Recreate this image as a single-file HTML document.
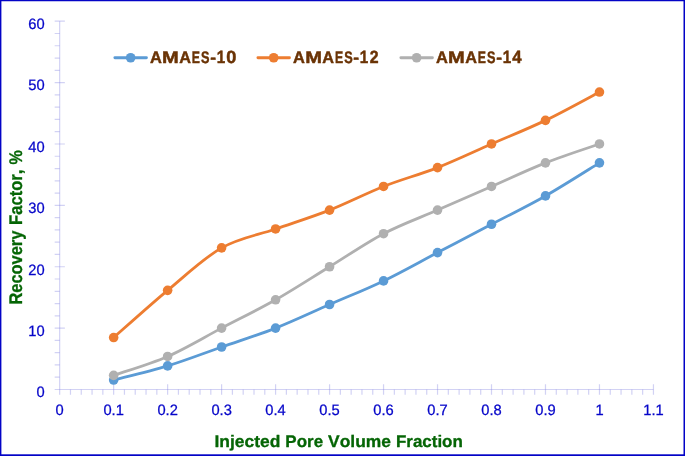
<!DOCTYPE html>
<html><head><meta charset="utf-8"><title>Recovery Factor Chart</title>
<style>
html,body{margin:0;padding:0;background:#fff;}
body{width:685px;height:456px;overflow:hidden;font-family:"Liberation Sans",sans-serif;}
svg{display:block;will-change:transform;}
text{text-rendering:geometricPrecision;font-kerning:none;}
</style></head><body>
<svg width="685" height="456" viewBox="0 0 685 456">
<rect x="0" y="0" width="685" height="456" fill="#fff"/>
<g stroke="#8686e2" stroke-width="1.2" stroke-opacity="0.37" fill="none" stroke-linecap="butt">
<path d="M59.67 21.22 V394.80"/>
<path d="M54.67 389.50 H653.45"/>
<path d="M54.67 377.22 H59.67M54.67 364.95 H59.67M54.67 352.67 H59.67M54.67 340.40 H59.67M54.67 328.12 H64.87M54.67 315.84 H59.67M54.67 303.57 H59.67M54.67 291.29 H59.67M54.67 279.02 H59.67M54.67 266.74 H64.87M54.67 254.46 H59.67M54.67 242.19 H59.67M54.67 229.91 H59.67M54.67 217.64 H59.67M54.67 205.36 H64.87M54.67 193.08 H59.67M54.67 180.81 H59.67M54.67 168.53 H59.67M54.67 156.26 H59.67M54.67 143.98 H64.87M54.67 131.70 H59.67M54.67 119.43 H59.67M54.67 107.15 H59.67M54.67 94.88 H59.67M54.67 82.60 H64.87M54.67 70.32 H59.67M54.67 58.05 H59.67M54.67 45.77 H59.67M54.67 33.50 H59.67M54.67 21.22 H64.87"/>
<path d="M70.47 389.50 V394.80M81.26 389.50 V394.80M92.06 389.50 V394.80M102.85 389.50 V394.80M113.65 384.20 V394.80M124.45 389.50 V394.80M135.24 389.50 V394.80M146.04 389.50 V394.80M156.83 389.50 V394.80M167.63 384.20 V394.80M178.43 389.50 V394.80M189.22 389.50 V394.80M200.02 389.50 V394.80M210.81 389.50 V394.80M221.61 384.20 V394.80M232.41 389.50 V394.80M243.20 389.50 V394.80M254.00 389.50 V394.80M264.79 389.50 V394.80M275.59 384.20 V394.80M286.39 389.50 V394.80M297.18 389.50 V394.80M307.98 389.50 V394.80M318.77 389.50 V394.80M329.57 384.20 V394.80M340.37 389.50 V394.80M351.16 389.50 V394.80M361.96 389.50 V394.80M372.75 389.50 V394.80M383.55 384.20 V394.80M394.35 389.50 V394.80M405.14 389.50 V394.80M415.94 389.50 V394.80M426.73 389.50 V394.80M437.53 384.20 V394.80M448.33 389.50 V394.80M459.12 389.50 V394.80M469.92 389.50 V394.80M480.71 389.50 V394.80M491.51 384.20 V394.80M502.31 389.50 V394.80M513.10 389.50 V394.80M523.90 389.50 V394.80M534.69 389.50 V394.80M545.49 384.20 V394.80M556.29 389.50 V394.80M567.08 389.50 V394.80M577.88 389.50 V394.80M588.67 389.50 V394.80M599.47 384.20 V394.80M610.27 389.50 V394.80M621.06 389.50 V394.80M631.86 389.50 V394.80M642.65 389.50 V394.80M653.45 384.20 V394.80"/>
</g>
<g font-family="Liberation Sans, sans-serif" font-size="15.0" fill="#0606c9" stroke="#0606c9" stroke-width="0.28">
<text x="36.53" y="397.30" textLength="8.17" lengthAdjust="spacingAndGlyphs">0</text>
<text x="28.35" y="335.92" textLength="16.35" lengthAdjust="spacingAndGlyphs">10</text>
<text x="28.35" y="274.54" textLength="16.35" lengthAdjust="spacingAndGlyphs">20</text>
<text x="28.35" y="213.16" textLength="16.35" lengthAdjust="spacingAndGlyphs">30</text>
<text x="28.35" y="151.78" textLength="16.35" lengthAdjust="spacingAndGlyphs">40</text>
<text x="28.35" y="90.40" textLength="16.35" lengthAdjust="spacingAndGlyphs">50</text>
<text x="28.35" y="29.02" textLength="16.35" lengthAdjust="spacingAndGlyphs">60</text>
<text x="55.58" y="414.85" textLength="8.17" lengthAdjust="spacingAndGlyphs">0</text>
<text x="103.43" y="414.85" textLength="20.43" lengthAdjust="spacingAndGlyphs">0.1</text>
<text x="157.41" y="414.85" textLength="20.43" lengthAdjust="spacingAndGlyphs">0.2</text>
<text x="211.39" y="414.85" textLength="20.43" lengthAdjust="spacingAndGlyphs">0.3</text>
<text x="265.37" y="414.85" textLength="20.43" lengthAdjust="spacingAndGlyphs">0.4</text>
<text x="319.35" y="414.85" textLength="20.43" lengthAdjust="spacingAndGlyphs">0.5</text>
<text x="373.33" y="414.85" textLength="20.43" lengthAdjust="spacingAndGlyphs">0.6</text>
<text x="427.31" y="414.85" textLength="20.43" lengthAdjust="spacingAndGlyphs">0.7</text>
<text x="481.29" y="414.85" textLength="20.43" lengthAdjust="spacingAndGlyphs">0.8</text>
<text x="535.27" y="414.85" textLength="20.43" lengthAdjust="spacingAndGlyphs">0.9</text>
<text x="595.38" y="414.85" textLength="8.17" lengthAdjust="spacingAndGlyphs">1</text>
<text x="643.23" y="414.85" textLength="20.43" lengthAdjust="spacingAndGlyphs">1.1</text>
</g>
<path d="M113.65 380.06 C122.65 377.70 149.64 371.40 167.63 365.89 C185.62 360.38 203.62 353.30 221.61 347.01 C239.60 340.71 257.60 335.20 275.59 328.12 C293.58 321.04 311.58 312.38 329.57 304.51 C347.56 296.64 365.56 289.56 383.55 280.90 C401.54 272.25 419.54 262.02 437.53 252.58 C455.52 243.13 473.52 233.69 491.51 224.25 C509.50 214.80 527.50 206.15 545.49 195.92 C563.48 185.69 590.47 168.37 599.47 162.87" fill="none" stroke="#5B9BD5" stroke-width="2.8" stroke-linecap="round" stroke-linejoin="round"/>
<g fill="#5B9BD5"><circle cx="113.65" cy="380.06" r="4.8"/><circle cx="167.63" cy="365.89" r="4.8"/><circle cx="221.61" cy="347.01" r="4.8"/><circle cx="275.59" cy="328.12" r="4.8"/><circle cx="329.57" cy="304.51" r="4.8"/><circle cx="383.55" cy="280.90" r="4.8"/><circle cx="437.53" cy="252.58" r="4.8"/><circle cx="491.51" cy="224.25" r="4.8"/><circle cx="545.49" cy="195.92" r="4.8"/><circle cx="599.47" cy="162.87" r="4.8"/></g>
<path d="M113.65 337.56 C122.65 329.69 149.64 305.30 167.63 290.35 C185.62 275.40 203.62 258.08 221.61 247.85 C239.60 237.62 257.60 235.26 275.59 228.97 C293.58 222.67 311.58 217.16 329.57 210.08 C347.56 203.00 365.56 193.56 383.55 186.47 C401.54 179.39 419.54 174.67 437.53 167.59 C455.52 160.51 473.52 151.85 491.51 143.98 C509.50 136.11 527.50 129.03 545.49 120.37 C563.48 111.72 590.47 96.76 599.47 92.04" fill="none" stroke="#ED7D31" stroke-width="2.8" stroke-linecap="round" stroke-linejoin="round"/>
<g fill="#ED7D31"><circle cx="113.65" cy="337.56" r="4.8"/><circle cx="167.63" cy="290.35" r="4.8"/><circle cx="221.61" cy="247.85" r="4.8"/><circle cx="275.59" cy="228.97" r="4.8"/><circle cx="329.57" cy="210.08" r="4.8"/><circle cx="383.55" cy="186.47" r="4.8"/><circle cx="437.53" cy="167.59" r="4.8"/><circle cx="491.51" cy="143.98" r="4.8"/><circle cx="545.49" cy="120.37" r="4.8"/><circle cx="599.47" cy="92.04" r="4.8"/></g>
<path d="M113.65 375.34 C122.65 372.19 149.64 364.32 167.63 356.45 C185.62 348.58 203.62 337.56 221.61 328.12 C239.60 318.68 257.60 310.02 275.59 299.79 C293.58 289.56 311.58 277.76 329.57 266.74 C347.56 255.72 365.56 243.13 383.55 233.69 C401.54 224.25 419.54 217.95 437.53 210.08 C455.52 202.21 473.52 194.34 491.51 186.47 C509.50 178.60 527.50 169.95 545.49 162.87 C563.48 155.78 590.47 147.13 599.47 143.98" fill="none" stroke="#B0B0B0" stroke-width="2.8" stroke-linecap="round" stroke-linejoin="round"/>
<g fill="#B0B0B0"><circle cx="113.65" cy="375.34" r="4.8"/><circle cx="167.63" cy="356.45" r="4.8"/><circle cx="221.61" cy="328.12" r="4.8"/><circle cx="275.59" cy="299.79" r="4.8"/><circle cx="329.57" cy="266.74" r="4.8"/><circle cx="383.55" cy="233.69" r="4.8"/><circle cx="437.53" cy="210.08" r="4.8"/><circle cx="491.51" cy="186.47" r="4.8"/><circle cx="545.49" cy="162.87" r="4.8"/><circle cx="599.47" cy="143.98" r="4.8"/></g>
<path d="M114.85 57.75 H146.45" stroke="#5B9BD5" stroke-width="2.8" stroke-linecap="round"/>
<circle cx="130.65" cy="57.75" r="4.8" fill="#5B9BD5"/>
<text transform="translate(149.97 62.60) scale(0.9904 1.000)" font-family="Liberation Sans, sans-serif" font-weight="bold" font-size="16.6" fill="#6a3305" stroke="#6a3305" stroke-width="0.45" stroke-linejoin="round">A</text>
<text transform="translate(162.09 62.60) scale(1.2105 1.000)" font-family="Liberation Sans, sans-serif" font-weight="bold" font-size="16.6" fill="#6a3305" stroke="#6a3305" stroke-width="0.45" stroke-linejoin="round">M</text>
<text transform="translate(179.32 62.60) scale(0.9796 1.000)" font-family="Liberation Sans, sans-serif" font-weight="bold" font-size="16.6" fill="#6a3305" stroke="#6a3305" stroke-width="0.45" stroke-linejoin="round">A</text>
<text transform="translate(191.84 62.60) scale(0.7387 1.000)" font-family="Liberation Sans, sans-serif" font-weight="bold" font-size="16.6" fill="#6a3305" stroke="#6a3305" stroke-width="0.45" stroke-linejoin="round">E</text>
<text transform="translate(201.11 62.60) scale(0.7652 1.000)" font-family="Liberation Sans, sans-serif" font-weight="bold" font-size="16.6" fill="#6a3305" stroke="#6a3305" stroke-width="0.45" stroke-linejoin="round">S</text>
<text transform="translate(210.23 62.60) scale(1.0510 1.000)" font-family="Liberation Sans, sans-serif" font-weight="bold" font-size="16.6" fill="#6a3305" stroke="#6a3305" stroke-width="0.45" stroke-linejoin="round">-</text>
<text transform="translate(216.65 62.60) scale(0.9166 1.065)" font-family="Liberation Sans, sans-serif" font-weight="bold" font-size="16.6" fill="#6a3305" stroke="#6a3305" stroke-width="0.45" stroke-linejoin="round">1</text>
<text transform="translate(226.28 62.60) scale(1.0944 1.065)" font-family="Liberation Sans, sans-serif" font-weight="bold" font-size="16.6" fill="#6a3305" stroke="#6a3305" stroke-width="0.45" stroke-linejoin="round">0</text>
<path d="M257.90 57.75 H289.50" stroke="#ED7D31" stroke-width="2.8" stroke-linecap="round"/>
<circle cx="273.70" cy="57.75" r="4.8" fill="#ED7D31"/>
<text transform="translate(293.02 62.60) scale(0.9904 1.000)" font-family="Liberation Sans, sans-serif" font-weight="bold" font-size="16.6" fill="#6a3305" stroke="#6a3305" stroke-width="0.45" stroke-linejoin="round">A</text>
<text transform="translate(305.14 62.60) scale(1.2105 1.000)" font-family="Liberation Sans, sans-serif" font-weight="bold" font-size="16.6" fill="#6a3305" stroke="#6a3305" stroke-width="0.45" stroke-linejoin="round">M</text>
<text transform="translate(322.37 62.60) scale(0.9796 1.000)" font-family="Liberation Sans, sans-serif" font-weight="bold" font-size="16.6" fill="#6a3305" stroke="#6a3305" stroke-width="0.45" stroke-linejoin="round">A</text>
<text transform="translate(334.89 62.60) scale(0.7387 1.000)" font-family="Liberation Sans, sans-serif" font-weight="bold" font-size="16.6" fill="#6a3305" stroke="#6a3305" stroke-width="0.45" stroke-linejoin="round">E</text>
<text transform="translate(344.16 62.60) scale(0.7652 1.000)" font-family="Liberation Sans, sans-serif" font-weight="bold" font-size="16.6" fill="#6a3305" stroke="#6a3305" stroke-width="0.45" stroke-linejoin="round">S</text>
<text transform="translate(353.28 62.60) scale(1.0510 1.000)" font-family="Liberation Sans, sans-serif" font-weight="bold" font-size="16.6" fill="#6a3305" stroke="#6a3305" stroke-width="0.45" stroke-linejoin="round">-</text>
<text transform="translate(359.70 62.60) scale(0.9166 1.065)" font-family="Liberation Sans, sans-serif" font-weight="bold" font-size="16.6" fill="#6a3305" stroke="#6a3305" stroke-width="0.45" stroke-linejoin="round">1</text>
<text transform="translate(369.71 62.60) scale(0.9547 1.065)" font-family="Liberation Sans, sans-serif" font-weight="bold" font-size="16.6" fill="#6a3305" stroke="#6a3305" stroke-width="0.45" stroke-linejoin="round">2</text>
<path d="M400.85 57.75 H432.45" stroke="#B0B0B0" stroke-width="2.8" stroke-linecap="round"/>
<circle cx="416.65" cy="57.75" r="4.8" fill="#B0B0B0"/>
<text transform="translate(435.97 62.60) scale(0.9904 1.000)" font-family="Liberation Sans, sans-serif" font-weight="bold" font-size="16.6" fill="#6a3305" stroke="#6a3305" stroke-width="0.45" stroke-linejoin="round">A</text>
<text transform="translate(448.09 62.60) scale(1.2105 1.000)" font-family="Liberation Sans, sans-serif" font-weight="bold" font-size="16.6" fill="#6a3305" stroke="#6a3305" stroke-width="0.45" stroke-linejoin="round">M</text>
<text transform="translate(465.32 62.60) scale(0.9796 1.000)" font-family="Liberation Sans, sans-serif" font-weight="bold" font-size="16.6" fill="#6a3305" stroke="#6a3305" stroke-width="0.45" stroke-linejoin="round">A</text>
<text transform="translate(477.84 62.60) scale(0.7387 1.000)" font-family="Liberation Sans, sans-serif" font-weight="bold" font-size="16.6" fill="#6a3305" stroke="#6a3305" stroke-width="0.45" stroke-linejoin="round">E</text>
<text transform="translate(487.11 62.60) scale(0.7652 1.000)" font-family="Liberation Sans, sans-serif" font-weight="bold" font-size="16.6" fill="#6a3305" stroke="#6a3305" stroke-width="0.45" stroke-linejoin="round">S</text>
<text transform="translate(496.23 62.60) scale(1.0510 1.000)" font-family="Liberation Sans, sans-serif" font-weight="bold" font-size="16.6" fill="#6a3305" stroke="#6a3305" stroke-width="0.45" stroke-linejoin="round">-</text>
<text transform="translate(502.65 62.60) scale(0.9166 1.065)" font-family="Liberation Sans, sans-serif" font-weight="bold" font-size="16.6" fill="#6a3305" stroke="#6a3305" stroke-width="0.45" stroke-linejoin="round">1</text>
<text transform="translate(512.35 62.60) scale(1.0156 1.065)" font-family="Liberation Sans, sans-serif" font-weight="bold" font-size="16.6" fill="#6a3305" stroke="#6a3305" stroke-width="0.45" stroke-linejoin="round">4</text>
<text transform="translate(214.53 446.85) scale(1.0445 1)" font-family="Liberation Sans, sans-serif" font-weight="bold" font-size="16.7" fill="#056505" stroke="#056505" stroke-width="0.3" stroke-linejoin="round">Injected</text>
<text transform="translate(285.37 446.85) scale(1.0158 1)" font-family="Liberation Sans, sans-serif" font-weight="bold" font-size="16.7" fill="#056505" stroke="#056505" stroke-width="0.3" stroke-linejoin="round">Pore</text>
<text transform="translate(328.08 446.85) scale(1.0431 1)" font-family="Liberation Sans, sans-serif" font-weight="bold" font-size="16.7" fill="#056505" stroke="#056505" stroke-width="0.3" stroke-linejoin="round">Volume</text>
<text transform="translate(395.97 446.85) scale(1.0153 1)" font-family="Liberation Sans, sans-serif" font-weight="bold" font-size="16.7" fill="#056505" stroke="#056505" stroke-width="0.3" stroke-linejoin="round">Fraction</text>
<text transform="translate(21.80 304.60) rotate(-90) scale(0.9665 1.075)" font-family="Liberation Sans, sans-serif" font-weight="bold" font-size="17.0" fill="#056505" stroke="#056505" stroke-width="0.3" stroke-linejoin="round">Recovery</text>
<text transform="translate(21.80 224.91) rotate(-90) scale(0.9760 1.075)" font-family="Liberation Sans, sans-serif" font-weight="bold" font-size="17.0" fill="#056505" stroke="#056505" stroke-width="0.3" stroke-linejoin="round">Factor,</text>
<text transform="translate(21.80 164.60) rotate(-90) scale(0.9478 1.075)" font-family="Liberation Sans, sans-serif" font-weight="bold" font-size="17.0" fill="#056505" stroke="#056505" stroke-width="0.3" stroke-linejoin="round">%</text>
<rect x="0" y="0" width="685" height="1.25" fill="#0303c6"/>
<rect x="0" y="0" width="1.4" height="456" fill="#0303c6"/>
<rect x="683.5" y="0" width="1.5" height="456" fill="#0303c6"/>
<rect x="0" y="454.3" width="685" height="1.7" fill="#0303c6"/>
</svg>
</body></html>
